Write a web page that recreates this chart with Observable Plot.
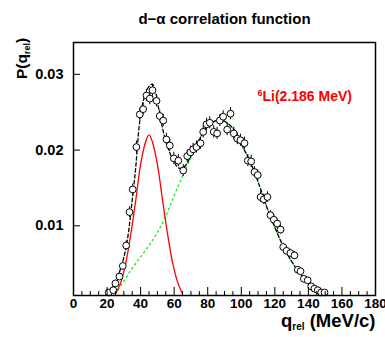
<!DOCTYPE html>
<html><head><meta charset="utf-8">
<script src="https://cdn.jsdelivr.net/npm/d3@7"></script>
<script src="https://cdn.jsdelivr.net/npm/@observablehq/plot@0.6"></script>
<style>html,body{margin:0;padding:0;background:#fff}svg{display:block}</style>
</head><body><div id="chart"></div>
<script>
// measured points: q_rel (MeV/c) and P(q_rel)
const qX = [21.0,23.7,25.0,27.4,29.4,31.4,33.4,35.3,37.5,39.5,41.5,43.5,45.5,47.1,49.5,51.4,53.5,55.4,57.4,59.8,62.5,65.4,67.8,69.7,71.3,73.3,75.7,77.3,79.3,81.2,83.6,85.6,87.2,89.2,91.6,93.6,95.5,97.6,99.5,101.9,103.9,105.9,107.9,109.8,111.5,113.4,115.6,117.4,119.4,121.4,123.4,125.0,127.0,129.3,131.7,133.7,135.3,137.3,139.6,141.7,143.6,145.6,147.6,149.6];
const qY = [0.0012,0.0015,0.0024,0.0033,0.0047,0.0074,0.0118,0.0148,0.0204,0.0247,0.0254,0.0272,0.0268,0.0279,0.0265,0.0245,0.0239,0.0214,0.0206,0.0189,0.0186,0.0173,0.0192,0.0197,0.0201,0.0204,0.0209,0.0224,0.0234,0.0236,0.0224,0.0222,0.0239,0.0244,0.0227,0.0248,0.0222,0.0215,0.0213,0.0209,0.0186,0.0185,0.0171,0.0167,0.0138,0.0135,0.0138,0.0114,0.0108,0.0103,0.0095,0.0072,0.0067,0.0064,0.0061,0.0042,0.0040,0.0030,0.0028,0.0020,0.0017,0.0015,0.0012,0.0012];
const qErr = [0.0003,0.0003,0.0004,0.0004,0.0005,0.0006,0.0007,0.0007,0.0008,0.0008,0.0008,0.0008,0.0008,0.0008,0.0008,0.0008,0.0008,0.0008,0.0008,0.0008,0.0008,0.0008,0.0008,0.0008,0.0008,0.0008,0.0008,0.0008,0.0008,0.0008,0.0008,0.0008,0.0008,0.0008,0.0008,0.0008,0.0008,0.0008,0.0008,0.0008,0.0008,0.0008,0.0007,0.0007,0.0007,0.0007,0.0007,0.0006,0.0006,0.0006,0.0006,0.0005,0.0005,0.0005,0.0005,0.0004,0.0004,0.0004,0.0004,0.0003,0.0003,0.0003,0.0003,0.0003];

// 6Li(2.186 MeV) resonance contribution (red)
const redX = [25,28,31,34,37,40,43,45,47,50,53,56,59,62,65];
const redY = [0.0010,0.0024,0.0049,0.0087,0.0132,0.0181,0.0211,0.0220,0.0211,0.0181,0.0135,0.0090,0.0052,0.0026,0.0010];

// background contribution (green dotted)
const greenX = [25,30,35,40,45,50,55,60,65,70,75,80,85,88,92,96,100,105,110,115,120,125,130,135,140,145,150];
const greenY = [0.0010,0.0027,0.0044,0.0059,0.0074,0.0091,0.0113,0.0140,0.0166,0.0190,0.0214,0.0232,0.0239,0.0240,0.0235,0.0226,0.0208,0.0186,0.0158,0.0126,0.0098,0.0073,0.0053,0.0037,0.0024,0.0015,0.0010];

// total fit (black dashed)
const totalX = [21,25,29,32,35,37,39.5,42,45,47,49,51,55,60,63,66,70,75,80,85,88,92,96,100,105,110,115,120,125,130,135,140,145,150];
const totalY = [0.0010,0.0026,0.0050,0.0080,0.0134,0.0175,0.0238,0.0268,0.0284,0.0287,0.0276,0.0252,0.0212,0.0184,0.0176,0.0178,0.0192,0.0214,0.0232,0.0239,0.0240,0.0235,0.0226,0.0208,0.0186,0.0158,0.0126,0.0098,0.0073,0.0053,0.0037,0.0024,0.0015,0.0010];

const xMajor = [0,20,40,60,80,100,120,140,160,180];
const xMinor = d3.range(0, 181, 5).filter(v => v % 20 !== 0);
const yMajor = [0.01,0.02,0.03];

const titleText = "d\u2212\u03b1 correlation function";
const legendText = "6Li(2.186 MeV)";
const xLabelText = "qrel (MeV/c)";
const yLabelText = "P(qrel)";

const pts = qX.map((x, i) => ({x, y: qY[i], lo: qY[i] - qErr[i], hi: qY[i] + qErr[i]}));
const toPts = (X, Y) => X.map((x, i) => ({x, y: Y[i]}));

const font = "'Liberation Sans', Arial, Helvetica, sans-serif";
const W = 385, H = 337, mT = 42, mB = 42;

const chart = Plot.plot({
  width: W, height: H,
  marginLeft: 73, marginRight: 10, marginTop: mT, marginBottom: mB,
  x: {domain: [0, 180], axis: null},
  y: {domain: [0.0008, 0.0342], axis: null},
  style: {fontFamily: font, background: "white", color: "black"},
  marks: [
    Plot.line(toPts(greenX, greenY), {x: "x", y: "y", stroke: "#22ee22", strokeWidth: 1.4, strokeDasharray: "1.5,3.5", curve: "catmull-rom", clip: true}),
    Plot.line(toPts(totalX, totalY), {x: "x", y: "y", stroke: "black", strokeWidth: 1.3, strokeDasharray: "3.5,2.5", curve: "catmull-rom", clip: true}),
    Plot.line(toPts(redX, redY), {x: "x", y: "y", stroke: "#ff0000", strokeWidth: 1.3, curve: "catmull-rom", clip: true}),
    Plot.ruleX(pts, {x: "x", y1: "lo", y2: "hi", stroke: "black", strokeWidth: 1}),
    Plot.dot(pts, {x: "x", y: "y", r: 3.4, fill: "white", stroke: "black", strokeWidth: 1}),
    Plot.frame({stroke: "black", strokeWidth: 1.5}),
    Plot.tickX(xMinor, {x: d => d, stroke: "black", insetTop: H - mT - mB - 4}),
    Plot.axisX(xMajor, {tickSize: -8, tickPadding: 11, label: null, fontSize: 13.5, fontWeight: "bold", tickFormat: d => String(d)}),
    Plot.axisY(yMajor, {tickSize: -7, tickPadding: 17, label: null, fontSize: 14.5, fontWeight: "bold", tickFormat: d3.format(".2f")}),
    Plot.text([titleText], {frameAnchor: "top", dy: -29, fontSize: 15, fontWeight: "bold", text: d => d}),
    Plot.text([legendText], {frameAnchor: "top-left", dx: 184, dy: 49, textAnchor: "start", fontSize: 14, fontWeight: "bold", fill: "#ff0000", text: d => d}),
    Plot.text([xLabelText], {frameAnchor: "bottom-right", dy: 31.5, textAnchor: "end", fontSize: 18.5, fontWeight: "bold", text: d => d}),
    Plot.text([yLabelText], {frameAnchor: "top-left", dx: -58, dy: 16, rotate: -90, textAnchor: "middle", fontSize: 15.5, fontWeight: "bold", text: d => d})
  ]
});

function rich(svg, key, parts) {
  d3.select(svg).selectAll("text").filter(function() { return this.textContent === key; }).each(function() {
    const t = d3.select(this);
    t.selectAll("*").remove();
    t.text(null);
    for (const p of parts) {
      const s = t.append("tspan").text(p.t);
      if (p.size) s.attr("font-size", p.size);
      if (p.dy) s.attr("dy", p.dy);
    }
  });
}
rich(chart, legendText, [{t: "6", size: 9, dy: -5}, {t: "Li(2.186 MeV)", dy: 5}]);
rich(chart, xLabelText, [{t: "q"}, {t: "rel", size: 10, dy: 3}, {t: " (MeV/c)", dy: -3}]);
rich(chart, yLabelText, [{t: "P(q"}, {t: "rel", size: 9, dy: 3}, {t: ")", dy: -3}]);

document.getElementById("chart").appendChild(chart);
</script>
</body></html>
